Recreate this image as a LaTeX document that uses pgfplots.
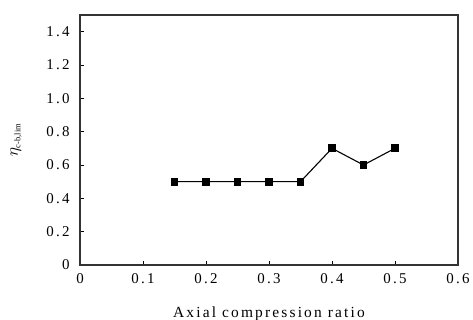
\documentclass[border=0pt]{standalone}
\usepackage{fontspec}
\setmainfont{Liberation Serif}
\usepackage{pgfplots}
\pgfplotsset{compat=1.18}
\begin{document}
\begin{tikzpicture}
\begin{axis}[
  name=ax,
  scale only axis,
  width=378bp, height=250bp,
  xmin=0, xmax=0.6, ymin=0, ymax=1.5,
  xtick={0,0.1,...,0.6},
  ytick={0,0.2,0.4,0.6,0.8,1.0,1.2,1.4},
  yticklabels={{0\hspace*{7bp}},{0.2\hspace*{7bp}},{0.4\hspace*{7bp}},{0.6\hspace*{7bp}},{0.8\hspace*{7bp}},{1.0\hspace*{7bp}},{1.2\hspace*{7bp}},{1.4\hspace*{7bp}}},
  xticklabels={0,0.1,0.2,0.3,0.4,0.5,0.6},
  tick align=inside,
  xtick pos=bottom, ytick pos=left,
  major tick length=4bp,
  axis line style={line width=1.1pt, black!80},
  tick style={line width=0.8pt, black},
  tick label style={font=\fontsize{15}{17}\selectfont\addfontfeatures{LetterSpace=15}},
  yticklabel style={anchor=east},
  xticklabel shift=5bp,
  xlabel={Axial compression ratio},
  xlabel style={font=\fontsize{15.5}{17}\selectfont\addfontfeatures{LetterSpace=14}, at={(axis description cs:0.5,0)}, anchor=center, yshift=-49bp},
  /pgf/number format/assume math mode=true,
]
\addplot[black, line width=1.1pt, mark=square*, mark size=3.3pt] coordinates {
  (0.15,0.5) (0.2,0.5) (0.25,0.5) (0.3,0.5) (0.35,0.5) (0.4,0.7) (0.45,0.6) (0.5,0.7)
};
\end{axis}
\node[rotate=90, anchor=center, font=\fontsize{18}{20}\selectfont] at ([xshift=-64bp]ax.west) {$\eta_{\mbox{\fontsize{8.5}{10}\selectfont c-b,lim}}$};
\pgfresetboundingbox
\path ([shift={(-80bp,-55bp)}]ax.south west) rectangle ([shift={(15bp,15bp)}]ax.north east);
\end{tikzpicture}
\end{document}
